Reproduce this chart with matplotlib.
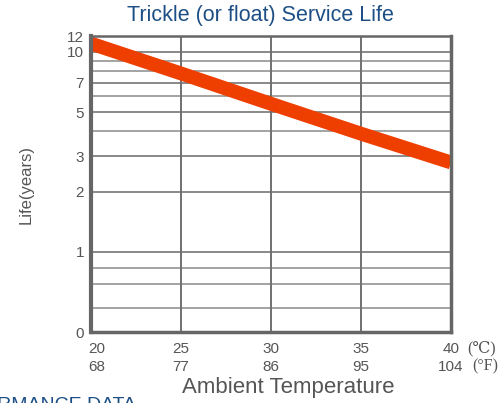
import matplotlib
matplotlib.use("Agg")
import matplotlib.pyplot as plt
from matplotlib.transforms import ScaledTranslation

plt.rcParams['font.family'] = ['Liberation Sans', 'DejaVu Sans']

# service life (years) vs ambient temperature
temp_c = [20, 25, 30, 35, 40]
life_years = [11.0, 7.8, 5.5, 3.9, 2.8]

xtick_c = [20, 25, 30, 35, 40]
xtick_f = [68, 77, 86, 95, 104]
ytick_vals = [0, 1, 2, 3, 5, 7, 10, 12]
grid_major = [1, 2, 3, 5, 7, 10]
grid_minor = [0.3, 0.6, 0.8, 4, 6, 8, 9]

fig = plt.figure(figsize=(4.99, 4.03), dpi=100)
ax = fig.add_axes([91/499, 1-332/403, 360/499, 296/403])

ax.set_yscale('symlog', linthresh=1, linscale=0.36)
ax.set_xlim(20, 40)
ax.set_ylim(0, 12)

for v in grid_minor:
    ax.axhline(v, color='#8a8a8a', lw=1.1, zorder=1)
for v in grid_major:
    ax.axhline(v, color='#6a6a6a', lw=1.1, zorder=1)
for v in xtick_c[1:-1]:
    ax.axvline(v, color='#707070', lw=1.4, zorder=1)

ax.plot(temp_c, life_years, color='#ee3f00', lw=10, solid_capstyle='butt', zorder=3)

ax.set_yticks(ytick_vals)
ax.set_yticklabels([str(v) for v in ytick_vals])
ax.yaxis.set_minor_locator(matplotlib.ticker.NullLocator())
ax.set_xticks(xtick_c)
ax.set_xticklabels([f"{c}\n{f}" for c, f in zip(xtick_c, xtick_f)], linespacing=1.4)
ax.tick_params(axis='both', length=0, labelsize=11, labelcolor='#555555')
ax.tick_params(axis='x', pad=7)
ax.tick_params(axis='y', pad=5)

first = ax.get_xticklabels()[0]
first.set_ha('left')
first.set_transform(first.get_transform() + ScaledTranslation(-3/100, 0, fig.dpi_scale_trans))

for side, w in [('left', 3.0), ('bottom', 2.5), ('right', 2.5), ('top', 1.8)]:
    ax.spines[side].set_linewidth(w)
    ax.spines[side].set_color('#666666')
    ax.spines[side].set_zorder(4)

fig.text(260/499, 1-16/403, "Trickle (or float) Service Life", color='#1d4f86',
         fontsize=15.5, ha='center', va='center')
ax.set_ylabel("Life(years)", color='#555555', fontsize=12, labelpad=24)
ax.set_xlabel("Ambient Temperature", color='#555555', fontsize=16, va='center')
ax.xaxis.set_label_coords((288-91)/360, (332-388)/296)

fig.text(467/499, 1-348/403, "(\u2103)", color='#555555', fontsize=11.5,
         family=['Liberation Serif', 'DejaVu Serif'], va='center', ha='left')
fig.text(472/499, 1-366/403, "(\u00b0F)", color='#555555', fontsize=11.5,
         family=['Liberation Serif', 'DejaVu Serif'], va='center', ha='left')

fig.text(136/499, 1-397/403, "PERFORMANCE DATA", color='#1d4f86', fontsize=14,
         ha='right', va='top')

fig.savefig("out.png", dpi=100)
